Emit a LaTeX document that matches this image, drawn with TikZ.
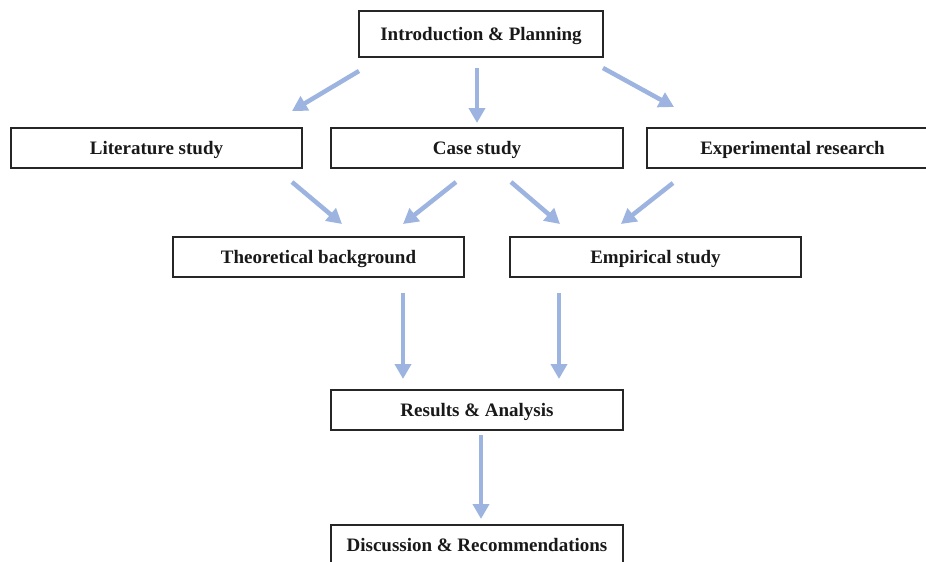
\documentclass[tikz,border=0pt]{standalone}
\usepackage{fontspec}
\setmainfont{Liberation Serif}
\usetikzlibrary{arrows.meta}
\definecolor{arrowblue}{HTML}{9DB4E0}
\tikzset{
  box/.style={draw=black!85, line width=1.4pt, minimum height=40pt, inner sep=0pt, text height=12.5pt, text depth=0pt, font=\bfseries\fontsize{19}{21}\selectfont, text=black!90},
  flow/.style={draw=arrowblue, line width=4.5pt, -{Triangle[length=15pt,width=16pt]}}
}
\begin{document}
\begin{tikzpicture}[x=1pt,y=-1pt]
\useasboundingbox (0,0) rectangle (926,562);
\node[box, minimum width=244pt, minimum height=46pt] (intro) at (481,34) {Introduction \& Planning};
\node[box, minimum width=291pt] (lit) at (156.5,148) {Literature study};
\node[box, minimum width=292pt] (case) at (477,148) {Case study};
\node[box, minimum width=291pt] (exp) at (792.5,148) {Experimental research};
\node[box, minimum width=291pt] (theo) at (318.5,257) {Theoretical background};
\node[box, minimum width=291pt] (emp) at (655.5,257) {Empirical study};
\node[box, minimum width=292pt] (res) at (477,410) {Results \& Analysis};
\node[box, minimum width=292pt, minimum height=40pt] (disc) at (477,545) {Discussion \& Recommendations};

\coordinate (a1s) at (359,71); \coordinate (a1e) at (292,111);
\coordinate (a2s) at (477,68); \coordinate (a2e) at (477,123);
\coordinate (a3s) at (603,68); \coordinate (a3e) at (674,107);
\coordinate (b1s) at (292,182); \coordinate (b1e) at (342,224);
\coordinate (b2s) at (456,182); \coordinate (b2e) at (403,224);
\coordinate (b3s) at (511,182); \coordinate (b3e) at (560,224);
\coordinate (b4s) at (673,183); \coordinate (b4e) at (621,224);
\coordinate (c1s) at (403,293); \coordinate (c1e) at (403,379);
\coordinate (c2s) at (559,293); \coordinate (c2e) at (559,379);
\coordinate (d1s) at (481,435); \coordinate (d1e) at (481,519);

\draw[flow] (a1s) -- (a1e);
\draw[flow] (a2s) -- (a2e);
\draw[flow] (a3s) -- (a3e);
\draw[flow] (b1s) -- (b1e);
\draw[flow] (b2s) -- (b2e);
\draw[flow] (b3s) -- (b3e);
\draw[flow] (b4s) -- (b4e);
\draw[flow] (c1s) -- (c1e);
\draw[flow] (c2s) -- (c2e);
\draw[flow] (d1s) -- (d1e);
\end{tikzpicture}
\end{document}
